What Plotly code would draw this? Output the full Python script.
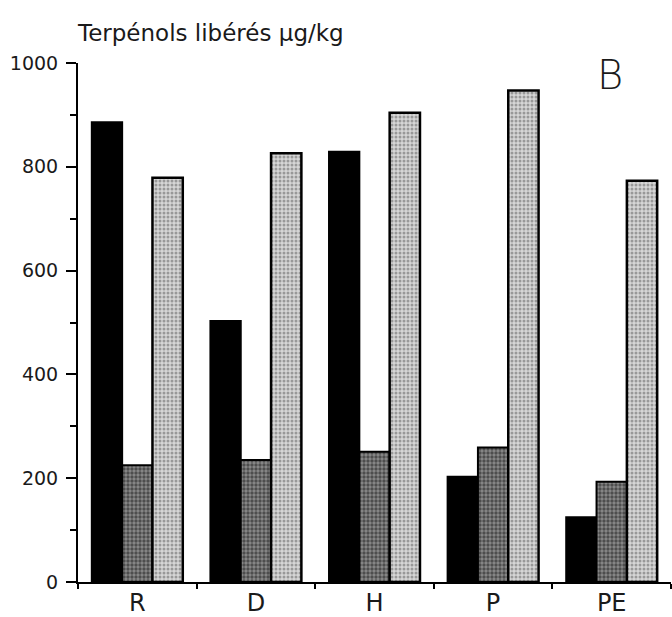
import plotly.graph_objects as go

categories = ["R", "D", "H", "P", "PE"]
series_black = [886, 503, 829, 203, 125]
series_dark = [225, 235, 251, 259, 193]
series_light = [779, 826, 904, 947, 773]
y_ticks = [0, 200, 400, 600, 800, 1000]

FONT = "DejaVu Sans"
INK = "#1a1a1a"

fig = go.Figure()
fig.add_trace(go.Bar(
    x=categories, y=series_black, hoverinfo="skip",
    marker=dict(color="#000000", line=dict(color="#000000", width=2)),
))
fig.add_trace(go.Bar(
    x=categories, y=series_dark, hoverinfo="skip",
    marker=dict(color="#5a5a5a", line=dict(color="#000000", width=2),
                pattern=dict(shape=".", fgcolor="#101010", bgcolor="#8a8a8a",
                             size=4, solidity=0.55)),
))
fig.add_trace(go.Bar(
    x=categories, y=series_light, hoverinfo="skip",
    marker=dict(color="#b8b8b8", line=dict(color="#000000", width=2.5),
                pattern=dict(shape=".", fgcolor="#5a5a5a", bgcolor="#d6d6d6",
                             size=4, solidity=0.45)),
))

fig.update_layout(
    width=672, height=617,
    margin=dict(l=78, r=1, t=63, b=35),
    paper_bgcolor="white", plot_bgcolor="white",
    barmode="group", bargap=0.233, bargroupgap=0,
    showlegend=False,
    font=dict(family=FONT, color=INK),
    xaxis=dict(
        type="category", automargin=False,
        range=[-0.5, 4.5],
        showline=True, linecolor="#000000", linewidth=2,
        ticks="outside", tickson="boundaries", ticklen=5, tickwidth=2, tickcolor="#000000",
        ticklabelstandoff=-2,
        tickfont=dict(size=24, family=FONT, color=INK),
        showgrid=False, zeroline=False,
    ),
    yaxis=dict(
        range=[0, 1000], automargin=False,
        tickvals=y_ticks, ticktext=[str(v) for v in y_ticks],
        showline=True, linecolor="#000000", linewidth=2,
        ticks="outside", ticklen=10, tickwidth=2, tickcolor="#000000",
        ticklabelstandoff=4,
        tickfont=dict(size=19, family=FONT, color=INK),
        minor=dict(dtick=100, ticks="outside", ticklen=6, tickwidth=2, tickcolor="#000000"),
        showgrid=False, zeroline=False,
    ),
    annotations=[
        dict(text="Terpénols libérés µg/kg", xref="paper", yref="paper",
             x=(75 - 78) / 593, y=(582 - 33) / 519, xanchor="left", yanchor="middle",
             showarrow=False, font=dict(size=23, family=FONT, color=INK)),
        dict(text="B", xref="paper", yref="paper",
             x=(610 - 78) / 593, y=(582 - 75) / 519, xanchor="center", yanchor="middle",
             showarrow=False, font=dict(size=40, family=FONT, color=INK, weight=200)),
    ],
)

fig.write_html("out.html", config={"displayModeBar": False},
               post_script="document.body.style.margin='0';document.body.style.overflow='hidden';")
